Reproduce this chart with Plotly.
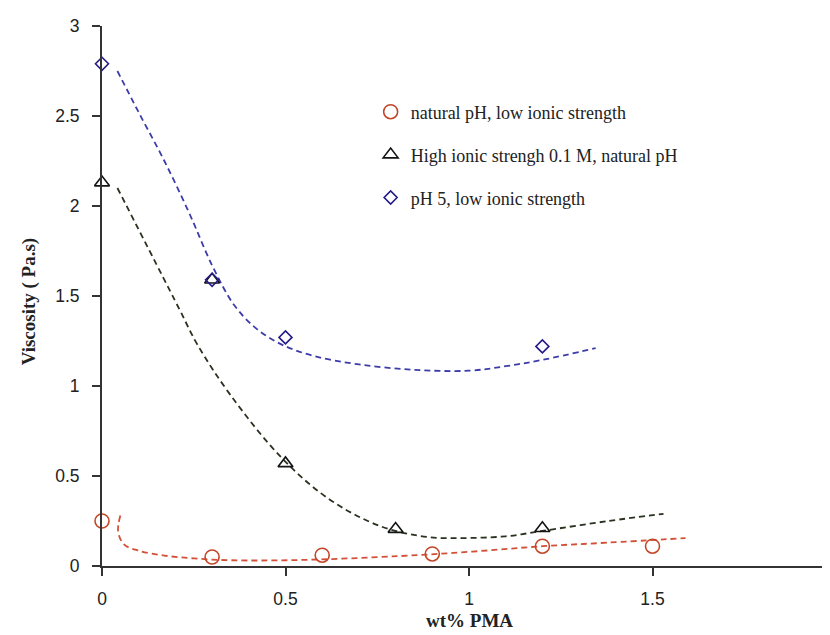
import plotly.graph_objects as go

# Measured data
x_nat = [0, 0.3, 0.6, 0.9, 1.2, 1.5]
y_nat = [0.25, 0.05, 0.06, 0.067, 0.11, 0.11]

x_ion = [0, 0.3, 0.5, 0.8, 1.2]
y_ion = [2.13, 1.59, 0.57, 0.205, 0.21]

x_ph5 = [0, 0.3, 0.5, 1.2]
y_ph5 = [2.79, 1.59, 1.27, 1.22]

# Trend curves
fx_nat = [0.05, 0.044, 0.06, 0.10, 0.17, 0.25, 0.35, 0.53, 0.81, 1.01, 1.2, 1.38, 1.59]
fy_nat = [0.28, 0.19, 0.12, 0.085, 0.058, 0.042, 0.032, 0.033, 0.055, 0.08, 0.11, 0.13, 0.155]

fx_ion = [0.042, 0.21, 0.26, 0.35, 0.49, 0.62, 0.76, 0.89, 0.97, 1.10, 1.2, 1.38, 1.53]
fy_ion = [2.10, 1.43, 1.23, 0.95, 0.60, 0.37, 0.22, 0.16, 0.155, 0.165, 0.195, 0.25, 0.29]

fx_ph5 = [0.042, 0.10, 0.17, 0.24, 0.30, 0.36, 0.42, 0.49, 0.58, 0.70, 0.85, 1.0, 1.1, 1.2, 1.345]
fy_ph5 = [2.75, 2.52, 2.25, 1.95, 1.67, 1.45, 1.32, 1.23, 1.165, 1.12, 1.09, 1.085, 1.11, 1.145, 1.21]

names = ["natural pH, low ionic strength",
         "High ionic strengh 0.1 M, natural pH",
         "pH 5, low ionic strength"]
x_title = "<b>wt% PMA</b>"
y_title = "<b>Viscosity ( Pa.s)</b>"

RED = "rgb(195,70,40)"
RED_L = "rgb(210,80,55)"
BLK = "rgb(20,20,20)"
BLK_L = "rgb(40,50,30)"
BLU = "rgb(35,25,135)"
BLU_L = "rgb(60,60,170)"

SERIF = "Liberation Serif, Times New Roman, serif"
SANS = "Liberation Sans, Arial, sans-serif"

fig = go.Figure()

def fit(x, y, c):
    fig.add_trace(go.Scatter(x=x, y=y, mode="lines", showlegend=False,
                             line=dict(color=c, width=1.8, dash="6px,4px", shape="spline", smoothing=1.0),
                             hoverinfo="skip"))

fit(fx_nat, fy_nat, RED_L)
fit(fx_ion, fy_ion, BLK_L)
fit(fx_ph5, fy_ph5, BLU_L)

fig.add_trace(go.Scatter(x=x_nat, y=y_nat, mode="markers", name=names[0], legendgroup="a",
                         cliponaxis=False,
                         marker=dict(symbol="circle-open", size=14, color=RED, line=dict(width=1.6, color=RED))))
fig.add_trace(go.Scatter(x=x_ion, y=y_ion, mode="markers", name=names[1], legendgroup="b",
                         cliponaxis=False,
                         marker=dict(symbol="triangle-up-open", size=13, color=BLK, line=dict(width=1.6, color=BLK))))
fig.add_trace(go.Scatter(x=x_ph5, y=y_ph5, mode="markers", name=names[2], legendgroup="c",
                         cliponaxis=False,
                         marker=dict(symbol="diamond-open", size=10, color=BLU, line=dict(width=1.6, color=BLU))))

fig.update_layout(
    width=830, height=635,
    margin=dict(l=94, r=2, t=18, b=77),
    paper_bgcolor="white", plot_bgcolor="white",
    showlegend=True,
    legend=dict(x=0.366, y=0.875, xanchor="left", yanchor="top",
                font=dict(family=SERIF, size=18, color="#222"),
                tracegroupgap=16.5, traceorder="grouped", bgcolor="rgba(0,0,0,0)"),
    xaxis=dict(range=[0, 2], tickvals=[0, 0.5, 1, 1.5, 2], ticktext=["0", "0.5", "1", "1.5", "2"],
               showgrid=False, zeroline=False, showline=True, linecolor="#333", linewidth=1.5,
               ticks="outside", ticklen=8, tickcolor="#333", tickwidth=1.5, ticklabelstandoff=8,
               tickfont=dict(family=SANS, size=17.5, color="#222")),
    yaxis=dict(range=[0, 3], tickvals=[0, 0.5, 1, 1.5, 2, 2.5, 3], ticktext=["0", "0.5", "1", "1.5", "2", "2.5", "3"],
               showgrid=False, zeroline=False, showline=True, linecolor="#333", linewidth=2,
               ticks="outside", ticklen=8, tickcolor="#333", tickwidth=1.5, ticklabelstandoff=9,
               tickfont=dict(family=SANS, size=17.5, color="#222")),
    annotations=[
        dict(text=x_title, xref="paper", yref="paper", x=0.5, y=-0.10, xanchor="center", yanchor="middle",
             showarrow=False, font=dict(family=SERIF, size=19, color="#222")),
        dict(text=y_title, xref="paper", yref="paper", x=-0.0995, y=0.49, xanchor="center", yanchor="middle",
             textangle=-90, showarrow=False, font=dict(family=SERIF, size=19, color="#222")),
    ],
)

fig.write_html("out.html")
